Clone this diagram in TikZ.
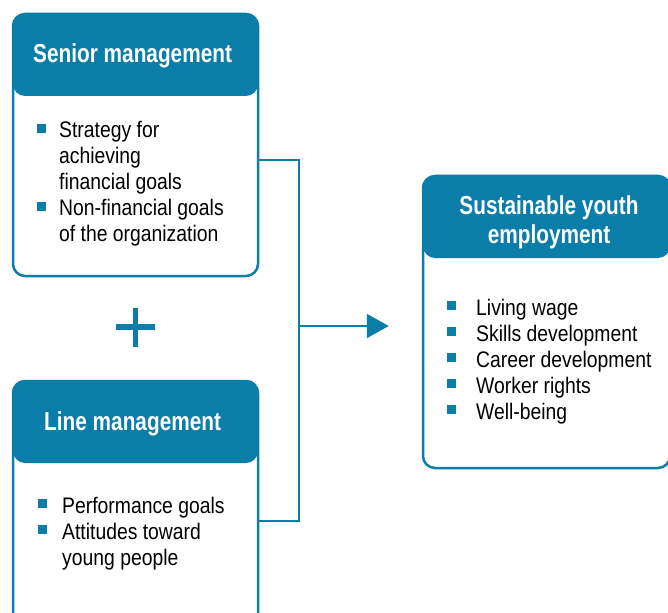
\documentclass[tikz,border=0pt]{standalone}
\usepackage{fontspec}
\setmainfont{Liberation Sans}[FakeStretch=0.86]
\newfontfamily\titlefont{Liberation Sans}[FakeStretch=0.8]
\usetikzlibrary{positioning,arrows.meta}
\definecolor{ikblue}{RGB}{10,125,168}
\newcommand{\bul}{\textcolor{ikblue}{\rule[5pt]{9pt}{9pt}}}

\begin{document}
\begin{tikzpicture}[x = 1pt, y = -1pt,
    box/.style = { draw = ikblue, line width = 2.5pt, rounded corners = 12pt,
      inner sep = 0, minimum width = 245pt,
      path picture = { \fill [ikblue] (path picture bounding box.north west)
        rectangle ([yshift = -#1] path picture bounding box.north east); } },
    title/.style = { text = white, align = center, inner sep = 0,
      font = \titlefont\bfseries\fontsize{26}{29}\selectfont },
    items/.style = { anchor = base west, inner sep = 0,
      font = \fontsize{22.5}{26}\selectfont },
    link/.style = { draw = ikblue, line width = 2.2pt }]
    \useasboundingbox (0,0) rectangle (668,612);
    \clip (0,0) rectangle (668,612);

    % boxes
    \node [box = 82pt, minimum height = 262pt] (senior) at (135.5,145) {};
    \node [box = 82pt, minimum height = 262pt] (line) at (135.5,512) {};
    \node [box = 82pt, minimum width = 247pt, minimum height = 292pt] (youth) at (546.5,322) {};

    % titles
    \node [title, anchor = base] (seniortitle) at (135.5,63) { Senior management };
    \node [title, anchor = base] (linetitle) at (135.5,430) { Line management };
    \node [title] (youthtitle) at (549,222) { Sustainable youth\\ employment };

    % lists
    \node [items] (senioritems) at (37,138) {\begin{tabular}[t]{@{}p{22pt}@{}l@{}}
      \bul & Strategy for\\ & achieving\\ & financial goals\\
      \bul & Non-financial goals\\ & of the organization \end{tabular}};
    \node [items] (lineitems) at (38,513) {\begin{tabular}[t]{@{}p{24pt}@{}l@{}}
      \bul & Performance goals\\ \bul & Attitudes toward\\ & young people \end{tabular}};
    \node [items] (youthitems) at (447,315) {\begin{tabular}[t]{@{}p{29pt}@{}l@{}}
      \bul & Living wage\\ \bul & Skills development\\ \bul & Career development\\
      \bul & Worker rights\\ \bul & Well-being \end{tabular}};

    % plus
    \coordinate (plus) at (135.5,327);
    \draw [ikblue, line width = 5.5pt] ([xshift = -19.5pt] plus) -- ([xshift = 19.5pt] plus)
      ([yshift = 19.5pt] plus) -- ([yshift = -19.5pt] plus);

    % connectors
    \coordinate (join) at (299,326);
    \draw [link] ([yshift = -15pt] senior.east) -| (join) |- ([yshift = -9pt] line.east);
    \draw [link, -{Triangle[length = 22pt, width = 24pt]}] (join) -- ([xshift = -33pt] youth.west |- join);
\end{tikzpicture}
\end{document}
